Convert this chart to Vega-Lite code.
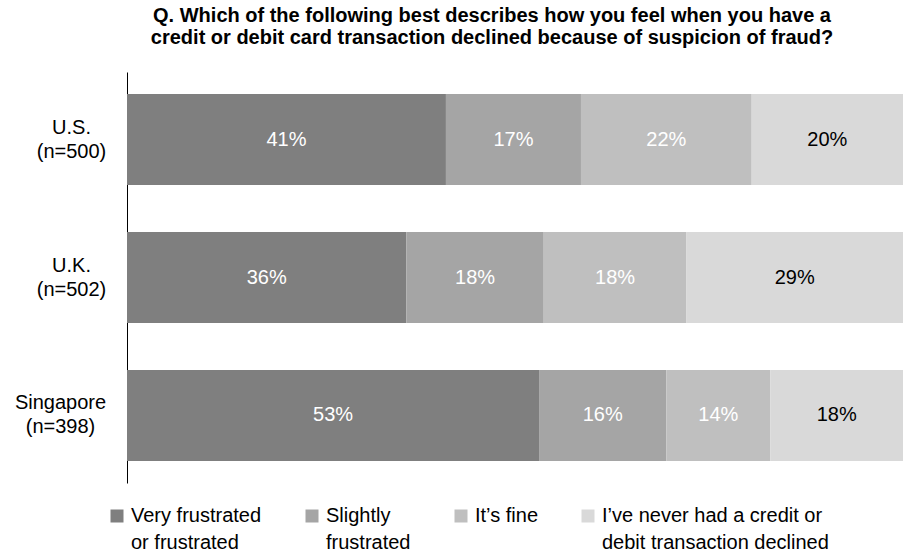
{
  "$schema": "https://vega.github.io/schema/vega-lite/v6.json",
  "width": 776,
  "height": 411,
  "autosize": {"type": "none"},
  "padding": {"left": 127, "top": 72, "right": 0, "bottom": 75},
  "config": {
    "font": "Liberation Sans",
    "view": {"stroke": null},
    "axis": {"grid": false},
    "style": {"guide-label": {"lineHeight": 27}}
  },
  "title": {
    "text": ["Q. Which of the following best describes how you feel when you have a", "credit or debit card transaction declined because of suspicion of fraud?"],
    "fontSize": 20,
    "fontWeight": "bold",
    "color": "#000000",
    "anchor": "middle",
    "frame": "group",
    "dx": -23,
    "offset": 24,
    "lineHeight": 22
  },
  "data": {
    "values": [
      {"country": "U.S. (n=500)", "cat": "Very frustrated or frustrated", "rank": 1, "pct": 41.1, "label": "41%"},
      {"country": "U.S. (n=500)", "cat": "Slightly frustrated", "rank": 2, "pct": 17.4, "label": "17%"},
      {"country": "U.S. (n=500)", "cat": "It’s fine", "rank": 3, "pct": 22.0, "label": "22%"},
      {"country": "U.S. (n=500)", "cat": "I’ve never had a credit or debit transaction declined", "rank": 4, "pct": 19.5, "label": "20%"},
      {"country": "U.K. (n=502)", "cat": "Very frustrated or frustrated", "rank": 1, "pct": 36.0, "label": "36%"},
      {"country": "U.K. (n=502)", "cat": "Slightly frustrated", "rank": 2, "pct": 17.7, "label": "18%"},
      {"country": "U.K. (n=502)", "cat": "It’s fine", "rank": 3, "pct": 18.4, "label": "18%"},
      {"country": "U.K. (n=502)", "cat": "I’ve never had a credit or debit transaction declined", "rank": 4, "pct": 27.9, "label": "29%"},
      {"country": "Singapore (n=398)", "cat": "Very frustrated or frustrated", "rank": 1, "pct": 53.1, "label": "53%"},
      {"country": "Singapore (n=398)", "cat": "Slightly frustrated", "rank": 2, "pct": 16.4, "label": "16%"},
      {"country": "Singapore (n=398)", "cat": "It’s fine", "rank": 3, "pct": 13.4, "label": "14%"},
      {"country": "Singapore (n=398)", "cat": "I’ve never had a credit or debit transaction declined", "rank": 4, "pct": 17.1, "label": "18%"}
    ]
  },
  "transform": [
    {"stack": "pct", "groupby": ["country"], "sort": [{"field": "rank", "order": "ascending"}], "as": ["x0", "x1"]}
  ],
  "layer": [
    {
      "mark": {"type": "bar"},
      "encoding": {
        "y": {
          "field": "country",
          "type": "nominal",
          "sort": ["U.S. (n=500)", "U.K. (n=502)", "Singapore (n=398)"],
          "scale": {"paddingInner": 0.34, "paddingOuter": 0.16},
          "axis": {
            "title": null,
            "domainColor": "#000000",
            "domainWidth": 1,
            "ticks": false,
            "tickSize": 0,
            "labelFontSize": 20,
            "labelColor": "#000000",
            "labelAlign": "center",
            "labelBaseline": "middle",
            "labelLineHeight": 24,
            "labelOffset": -12,
            "labelPadding": {"condition": {"test": "indexof(datum.value, 'Singapore') >= 0", "value": 67}, "value": 56},
            "labelExpr": "split(datum.value, ' ')"
          }
        },
        "x": {"field": "x0", "type": "quantitative", "scale": {"domain": [0, 100], "nice": false}, "axis": null},
        "x2": {"field": "x1"},
        "color": {
          "field": "cat",
          "type": "nominal",
          "scale": {
            "domain": ["Very frustrated or frustrated", "Slightly frustrated", "It’s fine", "I’ve never had a credit or debit transaction declined"],
            "range": ["#7F7F7F", "#A5A5A5", "#BFBFBF", "#D9D9D9"]
          },
          "legend": {
            "orient": "none",
            "legendX": -20,
            "legendY": 434,
            "direction": "horizontal",
            "title": null,
            "symbolType": "square",
            "symbolSize": 169,
            "symbolStrokeWidth": 0,
            "symbolOpacity": 1,
            "labelFontSize": 20,
            "labelColor": "#000000",
            "labelOffset": 4,
            "labelLimit": 400,
            "columnPadding": 40,
            "labelExpr": "datum.label == 'Very frustrated or frustrated' ? ['Very frustrated', 'or frustrated'] : datum.label == 'Slightly frustrated' ? ['Slightly', 'frustrated'] : datum.label == 'It’s fine' ? ['It’s fine', ' '] : ['I’ve never had a credit or', 'debit transaction declined']"
          }
        }
      }
    },
    {
      "transform": [{"fold": ["x0", "x1"], "as": ["edge", "xv"]}],
      "mark": {"type": "text", "fontSize": 20, "baseline": "middle", "align": "center"},
      "encoding": {
        "y": {"field": "country", "type": "nominal", "sort": ["U.S. (n=500)", "U.K. (n=502)", "Singapore (n=398)"]},
        "x": {"aggregate": "mean", "field": "xv", "type": "quantitative"},
        "detail": {"field": "cat", "type": "nominal"},
        "text": {"field": "label", "type": "nominal"},
        "color": {
          "condition": {"test": "datum.cat === 'I’ve never had a credit or debit transaction declined'", "value": "#000000"},
          "value": "#FFFFFF"
        }
      }
    }
  ]
}
